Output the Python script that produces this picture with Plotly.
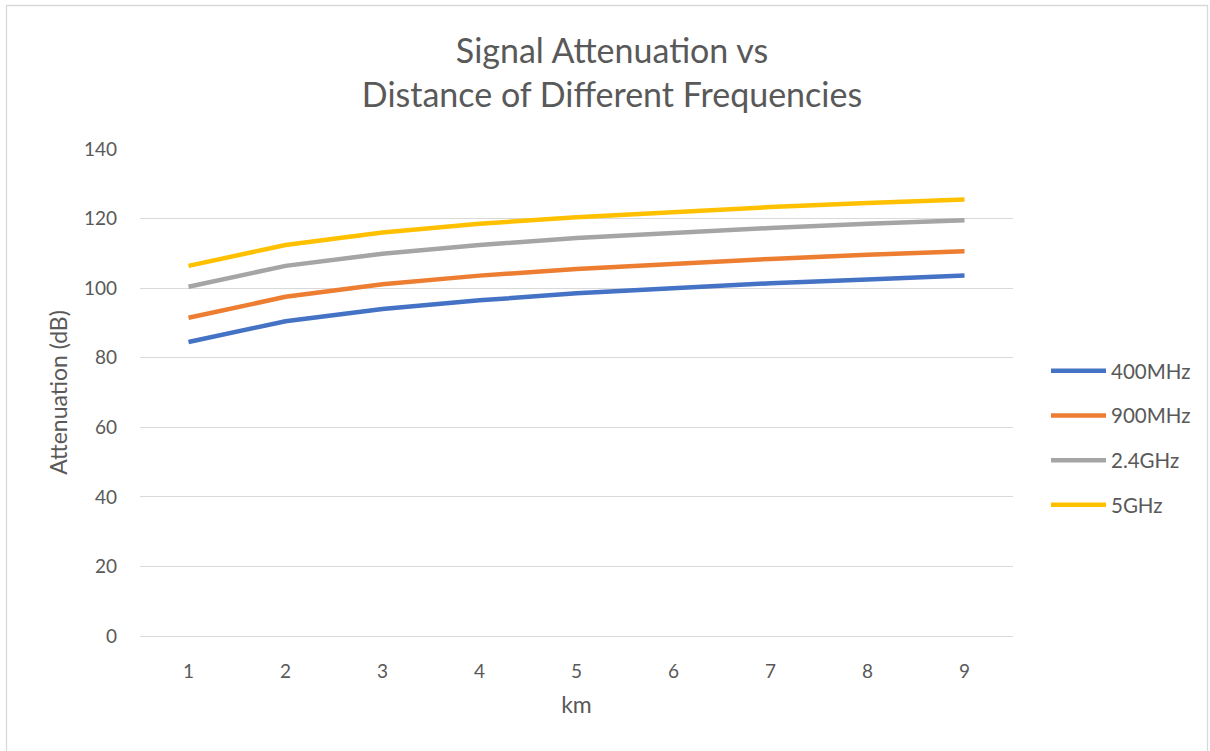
import plotly.graph_objects as go

# Distance (km) and path attenuation (dB) per carrier frequency
distance_km = [1, 2, 3, 4, 5, 6, 7, 8, 9]
loss_400mhz = [84.5, 90.5, 94.0, 96.5, 98.5, 100.0, 101.4, 102.5, 103.6]
loss_900mhz = [91.5, 97.5, 101.1, 103.6, 105.5, 107.1, 108.4, 109.6, 110.6]
loss_2_4ghz = [100.4, 106.4, 109.9, 112.4, 114.4, 116.0, 117.3, 118.5, 119.5]
loss_5ghz = [106.4, 112.4, 116.0, 118.5, 120.4, 122.0, 123.3, 124.5, 125.5]

series_names = ["400MHz", "900MHz", "2.4GHz", "5GHz"]
series_values = [loss_400mhz, loss_900mhz, loss_2_4ghz, loss_5ghz]
series_colors = ["#4472C4", "#ED7D31", "#A5A5A5", "#FFC000"]

FONT = "Lato, Carlito, Calibri, sans-serif"
TEXT_GRAY = "#595959"
GRID_GRAY = "#D9D9D9"

fig = go.Figure()
for i, (name, vals, col) in enumerate(zip(series_names, series_values, series_colors)):
    fig.add_trace(go.Scatter(
        x=distance_km, y=vals, name=name, mode="lines",
        line=dict(color=col, width=4.5),
        legendgroup=f"g{i}",
    ))

# plot area in pixels: x 140..1013, y 149..636
L, R, T, B = 140, 197, 149, 115
W, H = 1210, 751
pw, ph = W - L - R, H - T - B

def px_x(px):
    return (px - L) / pw

def px_y(py):
    return (H - B - py) / ph

fig.update_layout(
    width=W, height=H,
    margin=dict(l=L, r=R, t=T, b=B),
    paper_bgcolor="white", plot_bgcolor="white",
    font=dict(family=FONT, color=TEXT_GRAY, size=19),
    title=dict(
        text="Signal Attenuation vs<br>Distance of Different Frequencies",
        x=0.5 + 7 / W, xanchor="center", xref="container",
        y=1 - 63 / H, yanchor="middle",
        font=dict(family=FONT, size=34, color=TEXT_GRAY),
    ),
    xaxis=dict(
        range=[0.5, 9.5], tickmode="array", tickvals=distance_km,
        showgrid=False, zeroline=False,
        showline=True, linecolor=GRID_GRAY, linewidth=1.3,
        ticks="", ticklabelstandoff=18,
        title=dict(text="km", standoff=15, font=dict(size=23)),
        fixedrange=True,
    ),
    yaxis=dict(
        range=[0, 140], tickmode="linear", tick0=0, dtick=20,
        showgrid=True, gridcolor=GRID_GRAY, gridwidth=1.3,
        zeroline=False, showline=False,
        ticks="", ticklabelstandoff=22,
        title=dict(text="Attenuation (dB)", standoff=9, font=dict(size=23)),
        fixedrange=True,
    ),
    legend=dict(
        x=px_x(1046), xanchor="left",
        y=px_y(438), yanchor="middle",
        font=dict(family=FONT, size=20.5, color=TEXT_GRAY),
        tracegroupgap=15, traceorder="grouped",
        itemwidth=55, bgcolor="rgba(0,0,0,0)",
    ),
    showlegend=True,
)

# outer chart border
fig.add_shape(
    type="rect", xref="paper", yref="paper",
    x0=px_x(6.5), x1=px_x(1207.5), y0=px_y(760), y1=px_y(5.5),
    line=dict(color=GRID_GRAY, width=1.3), fillcolor="rgba(0,0,0,0)",
    layer="below",
)

fig.write_html("out.html")
